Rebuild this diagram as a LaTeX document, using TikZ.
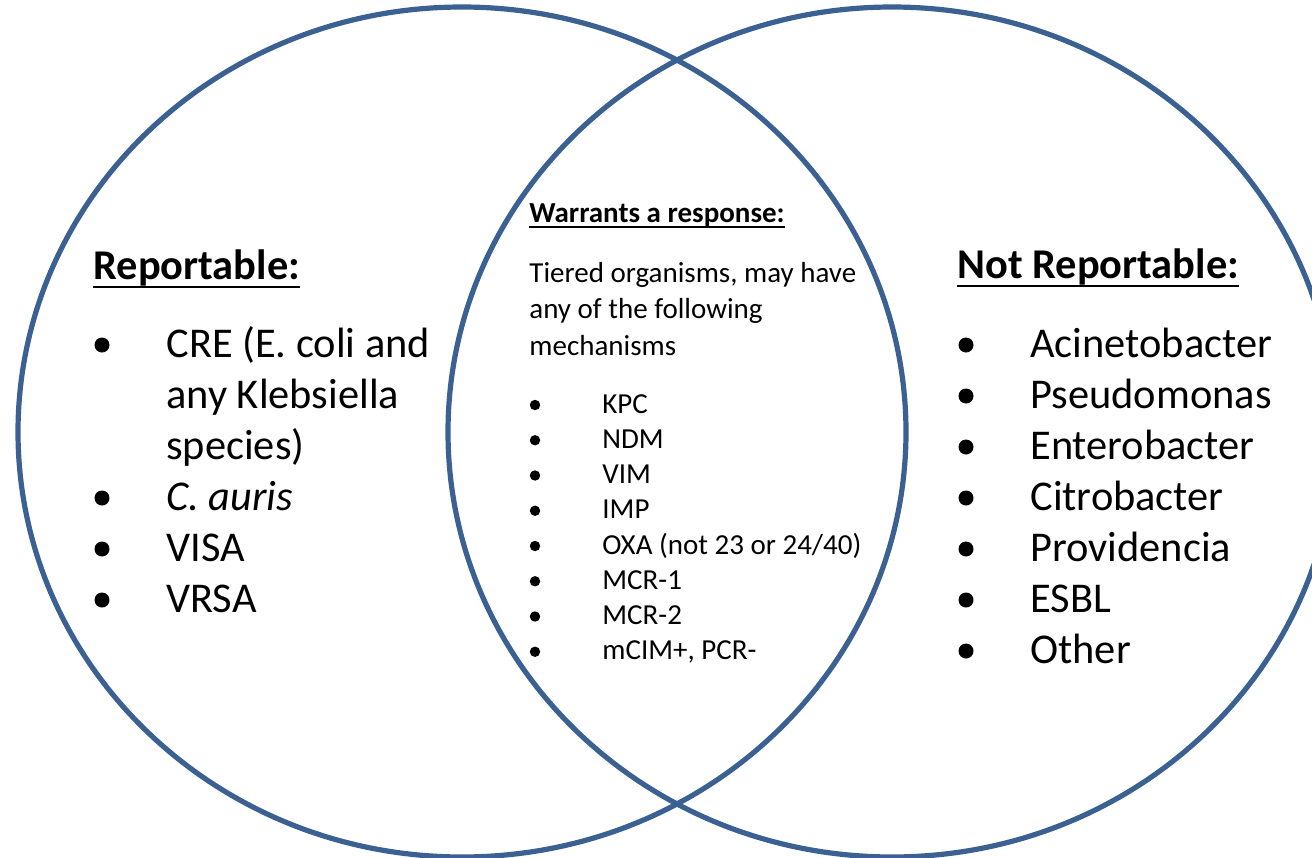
\documentclass[tikz,border=0pt]{standalone}
\usepackage{fontspec}
\setmainfont{Carlito}
\definecolor{ringblue}{RGB}{59,96,146}

\begin{document}
\begin{tikzpicture}[x=0.5pt,y=-0.5pt,
    ring/.style={draw=ringblue, line width=2.6pt},
    bigtext/.style={anchor=base west, inner sep=0pt, font=\fontsize{21.2}{25.5}\selectfont},
    smalltext/.style={anchor=base west, inner sep=0pt, font=\fontsize{14.5}{17.5}\selectfont}]
    \useasboundingbox (0,0) rectangle (1312,857);

    % the two sets
    \draw[ring] (462,432) ellipse [x radius=444, y radius=425];
    \draw[ring] (892,432) ellipse [x radius=444, y radius=425];

    % left set
    \node[bigtext, font=\fontsize{21.2}{25.5}\selectfont\bfseries] (rep) at (93,279) {Reportable:};
    \draw[line width=1.4pt] ([yshift=-4pt]rep.base west) -- ([yshift=-4pt]rep.base east);
    \foreach \txt/\dot [count=\i] in {CRE (E. coli and/1, any Klebsiella/0, species)/0,
        \textit{C. auris}/1, VISA/1, VRSA/1} {
        \node[bigtext] (rep\i) at (166,{357+51*(\i-1)}) {\txt};
        \ifnum\dot=1 \fill (102,{345+51*(\i-1)}) circle (7.5); \fi
    }

    % overlap
    \node[smalltext, font=\fontsize{14.5}{17.5}\selectfont\bfseries] (warn) at (529,222) {Warrants a response:};
    \draw[line width=1pt] ([yshift=-2.6pt]warn.base west) -- ([yshift=-2.6pt]warn.base east);
    \node[smalltext] (tier1) at (529,282) {Tiered organisms, may have};
    \node[smalltext] (tier2) at (529,318) {any of the following};
    \node[smalltext] (tier3) at (529,355) {mechanisms};
    \foreach \txt [count=\i] in {KPC, NDM, VIM, IMP, OXA (not 23 or 24/40), MCR-1, MCR-2, {mCIM+, PCR-}} {
        \node[smalltext] (mech\i) at (602,{413+35.25*(\i-1)}) {\txt};
        \fill (535,{405+35.25*(\i-1)}) circle (5.2);
    }

    % right set
    \node[bigtext, font=\fontsize{21.2}{25.5}\selectfont\bfseries] (notrep) at (957,278) {Not Reportable:};
    \draw[line width=1.4pt] ([yshift=-4pt]notrep.base west) -- ([yshift=-4pt]notrep.base east);
    \foreach \txt [count=\i] in {Acinetobacter, Pseudomonas, Enterobacter, Citrobacter, Providencia, ESBL, Other} {
        \node[bigtext] (notrep\i) at (1030,{357+51*(\i-1)}) {\txt};
        \fill (966,{345+51*(\i-1)}) circle (7.5);
    }
\end{tikzpicture}
\end{document}
